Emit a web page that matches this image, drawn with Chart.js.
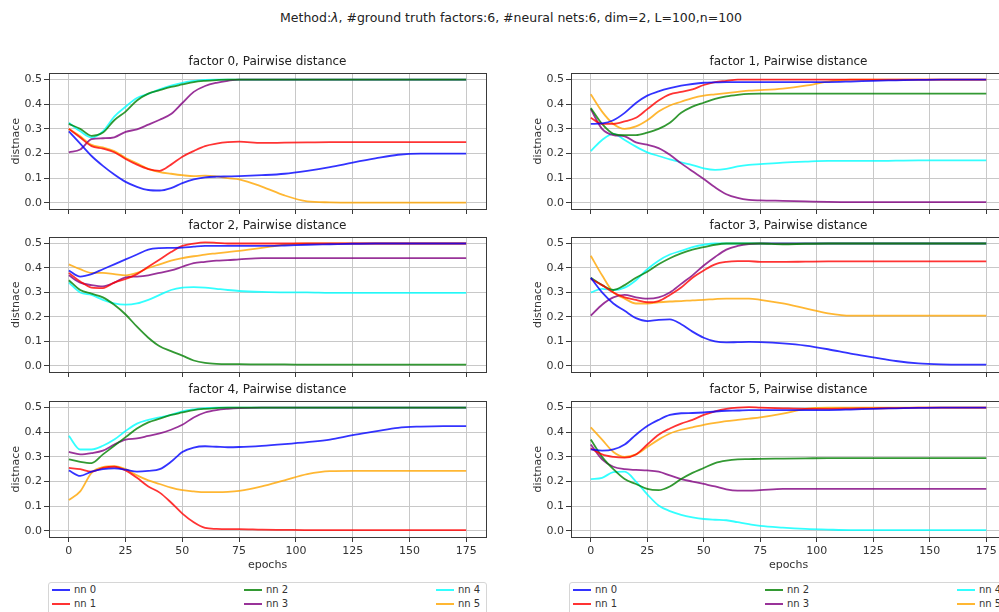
<!DOCTYPE html>
<html>
<head>
<meta charset="utf-8">
<script src="https://cdn.jsdelivr.net/npm/chart.js@4.4.0/dist/chart.umd.min.js"></script>
<style>
  html, body { margin:0; padding:0; background:#fff; }
  body { position:relative; width:999px; height:612px; overflow:hidden; font-family:'DejaVu Sans', sans-serif; }
  .sup { position:absolute; top:11px; left:0; width:1022px; text-align:center; font-size:12.5px; line-height:14px; color:#222; }
  canvas { position:absolute; }
  .legend { position:absolute; top:582px; width:437px; height:34px; border:1px solid #d6d6d6; border-radius:3px; background:#fff; font-size:10px; color:#333; }
  .legend .item { position:absolute; display:flex; align-items:center; height:12px; line-height:12px; }
  .legend .sw { width:18px; height:2px; margin-right:4px; }
</style>
</head>
<body>
<div class="sup">Method:<i>λ</i>, #ground truth factors:6, #neural nets:6, dim=2, L=100,n=100</div>
<canvas id="f0" width="490" height="170" style="left:0;top:45px"></canvas>
<canvas id="f1" width="488" height="170" style="left:522px;top:45px"></canvas>
<canvas id="f2" width="490" height="169" style="left:0;top:209px"></canvas>
<canvas id="f3" width="488" height="169" style="left:522px;top:209px"></canvas>
<canvas id="f4" width="490" height="202" style="left:0;top:373px"></canvas>
<canvas id="f5" width="488" height="202" style="left:522px;top:373px"></canvas>
<div class="legend" id="leg0" style="left:48px"></div>
<div class="legend" id="leg1" style="left:569px"></div>

<script>
// ── DATA ──────────────────────────────────────────────────────────────────────
const EPOCHS = [0,5,10,15,20,25,30,35,40,45,50,55,60,65,70,75,85,95,105,115,125,135,145,155,165,175];
const NETS   = ['nn 0','nn 1','nn 2','nn 3','nn 4','nn 5'];
const COLORS = ['rgba(0,0,255,0.8)','rgba(255,0,0,0.8)','rgba(0,128,0,0.8)',
                'rgba(128,0,128,0.8)','rgba(0,255,255,0.8)','rgba(255,165,0,0.8)'];
const X_TICKS = [0,25,50,75,100,125,150,175];
const Y_TICKS = [0,0.1,0.2,0.3,0.4,0.5];

// one row per net (nn 0 .. nn 5), one value per entry of EPOCHS
const factor0 = [
  [0.29,0.24,0.19,0.15,0.115,0.085,0.065,0.052,0.05,0.06,0.08,0.095,0.103,0.106,0.107,0.108,0.112,0.118,0.13,0.145,0.163,0.18,0.195,0.2,0.2,0.2],
  [0.3,0.265,0.23,0.22,0.205,0.178,0.155,0.137,0.13,0.155,0.187,0.21,0.23,0.24,0.246,0.248,0.243,0.244,0.245,0.246,0.246,0.246,0.246,0.246,0.246,0.246],
  [0.32,0.3,0.272,0.285,0.335,0.37,0.415,0.443,0.457,0.47,0.48,0.49,0.495,0.498,0.5,0.5,0.5,0.5,0.5,0.5,0.5,0.5,0.5,0.5,0.5,0.5],
  [0.205,0.216,0.258,0.262,0.266,0.288,0.298,0.317,0.337,0.36,0.405,0.45,0.474,0.487,0.495,0.5,0.5,0.5,0.5,0.5,0.5,0.5,0.5,0.5,0.5,0.5],
  [0.325,0.29,0.265,0.29,0.35,0.39,0.425,0.442,0.46,0.475,0.487,0.495,0.499,0.5,0.5,0.5,0.5,0.5,0.5,0.5,0.5,0.5,0.5,0.5,0.5,0.5],
  [0.3,0.27,0.235,0.225,0.21,0.182,0.16,0.138,0.125,0.118,0.112,0.108,0.11,0.107,0.1,0.095,0.066,0.03,0.006,0.002,0.001,0.001,0.001,0.001,0.001,0.001]
];
const factor1 = [
  [0.32,0.322,0.335,0.365,0.405,0.435,0.452,0.465,0.475,0.482,0.487,0.489,0.49,0.49,0.49,0.49,0.49,0.49,0.49,0.492,0.495,0.497,0.499,0.5,0.5,0.5],
  [0.345,0.32,0.32,0.33,0.345,0.38,0.415,0.44,0.45,0.46,0.478,0.49,0.495,0.5,0.5,0.5,0.5,0.5,0.5,0.5,0.5,0.5,0.5,0.5,0.5,0.5],
  [0.385,0.32,0.28,0.275,0.275,0.285,0.3,0.325,0.365,0.39,0.406,0.422,0.432,0.438,0.442,0.443,0.443,0.443,0.443,0.443,0.443,0.443,0.443,0.443,0.443,0.443],
  [0.38,0.3,0.275,0.27,0.245,0.236,0.222,0.195,0.16,0.128,0.097,0.063,0.035,0.02,0.012,0.01,0.008,0.006,0.004,0.003,0.003,0.003,0.003,0.003,0.003,0.003],
  [0.21,0.255,0.28,0.255,0.228,0.205,0.19,0.176,0.164,0.153,0.14,0.134,0.138,0.148,0.154,0.157,0.163,0.167,0.17,0.17,0.17,0.171,0.172,0.172,0.172,0.172],
  [0.44,0.37,0.32,0.3,0.31,0.335,0.37,0.395,0.41,0.425,0.435,0.44,0.445,0.45,0.455,0.457,0.463,0.475,0.492,0.5,0.5,0.5,0.5,0.5,0.5,0.5]
];
const factor2 = [
  [0.39,0.365,0.375,0.395,0.415,0.435,0.455,0.475,0.481,0.482,0.483,0.487,0.49,0.49,0.49,0.49,0.49,0.492,0.495,0.497,0.499,0.5,0.5,0.5,0.5,0.5],
  [0.38,0.345,0.32,0.318,0.34,0.355,0.375,0.405,0.435,0.465,0.49,0.5,0.505,0.503,0.5,0.5,0.5,0.5,0.5,0.5,0.5,0.5,0.5,0.5,0.5,0.5],
  [0.35,0.31,0.295,0.28,0.25,0.21,0.16,0.115,0.08,0.06,0.042,0.022,0.012,0.008,0.007,0.007,0.006,0.006,0.005,0.005,0.005,0.005,0.005,0.005,0.005,0.005],
  [0.37,0.34,0.33,0.325,0.34,0.362,0.365,0.37,0.38,0.39,0.405,0.42,0.425,0.43,0.432,0.435,0.44,0.44,0.44,0.44,0.44,0.44,0.44,0.44,0.44,0.44],
  [0.34,0.3,0.29,0.27,0.255,0.25,0.255,0.27,0.29,0.31,0.32,0.322,0.32,0.315,0.31,0.306,0.302,0.3,0.3,0.298,0.298,0.298,0.298,0.298,0.298,0.298],
  [0.415,0.395,0.38,0.38,0.375,0.37,0.38,0.4,0.415,0.43,0.44,0.448,0.455,0.46,0.465,0.47,0.482,0.495,0.5,0.5,0.5,0.5,0.5,0.5,0.5,0.5]
];
const factor3 = [
  [0.36,0.3,0.255,0.225,0.195,0.183,0.188,0.19,0.17,0.14,0.115,0.1,0.096,0.097,0.098,0.097,0.092,0.083,0.068,0.05,0.035,0.02,0.01,0.006,0.005,0.005],
  [0.355,0.33,0.3,0.28,0.27,0.26,0.265,0.29,0.32,0.36,0.39,0.415,0.425,0.428,0.428,0.425,0.425,0.426,0.427,0.427,0.427,0.427,0.427,0.427,0.427,0.427],
  [0.36,0.33,0.31,0.33,0.36,0.385,0.415,0.44,0.46,0.475,0.485,0.495,0.5,0.5,0.5,0.5,0.497,0.499,0.5,0.5,0.5,0.5,0.5,0.5,0.5,0.5],
  [0.205,0.25,0.28,0.29,0.28,0.275,0.28,0.3,0.335,0.37,0.41,0.445,0.475,0.49,0.498,0.5,0.5,0.5,0.5,0.5,0.5,0.5,0.5,0.5,0.5,0.5],
  [0.3,0.315,0.31,0.32,0.35,0.395,0.43,0.455,0.47,0.485,0.495,0.5,0.5,0.5,0.5,0.5,0.5,0.5,0.5,0.5,0.5,0.5,0.5,0.5,0.5,0.5],
  [0.45,0.37,0.3,0.275,0.255,0.255,0.26,0.263,0.265,0.268,0.27,0.273,0.275,0.275,0.275,0.27,0.255,0.235,0.215,0.205,0.205,0.205,0.205,0.205,0.205,0.205]
];
const factor4 = [
  [0.245,0.223,0.24,0.25,0.253,0.248,0.24,0.243,0.25,0.28,0.32,0.338,0.343,0.341,0.339,0.34,0.345,0.352,0.36,0.37,0.388,0.403,0.418,0.423,0.425,0.425],
  [0.255,0.25,0.24,0.255,0.26,0.245,0.215,0.18,0.155,0.115,0.07,0.035,0.012,0.008,0.007,0.007,0.005,0.004,0.003,0.003,0.003,0.003,0.003,0.003,0.003,0.003],
  [0.29,0.28,0.275,0.31,0.345,0.38,0.415,0.44,0.455,0.47,0.48,0.49,0.495,0.498,0.5,0.5,0.5,0.5,0.5,0.5,0.5,0.5,0.5,0.5,0.5,0.5],
  [0.32,0.31,0.315,0.325,0.35,0.37,0.375,0.385,0.395,0.41,0.43,0.46,0.48,0.49,0.495,0.498,0.5,0.5,0.5,0.5,0.5,0.5,0.5,0.5,0.5,0.5],
  [0.385,0.33,0.33,0.345,0.37,0.405,0.435,0.45,0.46,0.47,0.485,0.493,0.498,0.5,0.5,0.5,0.5,0.5,0.5,0.5,0.5,0.5,0.5,0.5,0.5,0.5],
  [0.125,0.16,0.235,0.258,0.262,0.25,0.225,0.205,0.19,0.175,0.165,0.16,0.157,0.157,0.158,0.162,0.18,0.205,0.23,0.242,0.243,0.243,0.243,0.243,0.243,0.243]
];
const factor5 = [
  [0.33,0.325,0.33,0.35,0.39,0.425,0.45,0.47,0.477,0.478,0.48,0.484,0.487,0.488,0.49,0.49,0.49,0.49,0.49,0.492,0.495,0.497,0.499,0.5,0.5,0.5],
  [0.335,0.31,0.3,0.297,0.31,0.35,0.39,0.415,0.435,0.45,0.47,0.485,0.495,0.5,0.502,0.5,0.497,0.495,0.495,0.496,0.497,0.498,0.5,0.5,0.5,0.5],
  [0.37,0.3,0.25,0.21,0.19,0.17,0.165,0.18,0.21,0.235,0.255,0.275,0.285,0.29,0.291,0.292,0.293,0.294,0.295,0.295,0.295,0.295,0.295,0.295,0.295,0.295],
  [0.35,0.29,0.26,0.25,0.247,0.245,0.24,0.225,0.21,0.2,0.19,0.18,0.168,0.163,0.163,0.165,0.17,0.17,0.17,0.17,0.17,0.17,0.17,0.17,0.17,0.17],
  [0.21,0.215,0.238,0.24,0.2,0.148,0.103,0.08,0.065,0.055,0.048,0.045,0.043,0.035,0.027,0.02,0.013,0.008,0.005,0.003,0.003,0.003,0.003,0.003,0.003,0.003],
  [0.42,0.37,0.32,0.3,0.31,0.34,0.37,0.395,0.41,0.42,0.43,0.438,0.445,0.45,0.455,0.46,0.475,0.495,0.5,0.5,0.5,0.5,0.5,0.5,0.5,0.5]
];
const FACTORS = [factor0, factor1, factor2, factor3, factor4, factor5];

// ── PLOT FRAME (all four spines) ─────────────────────────────────────────────
const framePlugin = {
  id: 'frame',
  afterDatasetsDraw(chart) {
    const a = chart.chartArea, ctx = chart.ctx;
    ctx.save();
    ctx.strokeStyle = '#3a3a3a';
    ctx.lineWidth = 1;
    ctx.strokeRect(Math.round(a.left) + 0.5, Math.round(a.top) + 0.5,
                   Math.round(a.right - a.left), Math.round(a.bottom - a.top));
    ctx.restore();
  }
};

const FONT = 'DejaVu Sans';

function makeChart(idx) {
  const bottomRow = idx >= 4;
  const rows = FACTORS[idx];
  const datasets = rows.map((vals, k) => ({
    label: NETS[k],
    data: EPOCHS.map((e, j) => ({ x: e, y: vals[j] })),
    borderColor: COLORS[k],
    borderWidth: 1.8,
    pointRadius: 0,
    fill: false,
    cubicInterpolationMode: 'monotone'
  }));

  return new Chart(document.getElementById('f' + idx), {
    type: 'line',
    data: { datasets },
    plugins: [framePlugin],
    options: {
      responsive: false,
      animation: false,
      devicePixelRatio: 1,
      layout: { padding: { left: 4, right: 4, top: 0, bottom: 0 } },
      plugins: {
        legend: { display: false },
        tooltip: { enabled: false },
        title: {
          display: true,
          text: `factor ${idx}, Pairwise distance`,
          fullSize: false,
          color: '#222',
          font: { family: FONT, size: 12, weight: 'normal' },
          padding: { top: 10, bottom: 4 }
        }
      },
      scales: {
        x: {
          type: 'linear',
          min: -8.75, max: 183.75,
          afterBuildTicks: s => { s.ticks = X_TICKS.map(v => ({ value: v })); },
          afterFit: s => {
            s.height = bottomRow ? 38 : 6;
            s.paddingLeft = s.paddingRight = 0;
          },
          grid: { color: '#c8c8c8', lineWidth: 1, tickLength: 5, tickColor: '#3a3a3a' },
          border: { display: false },
          ticks: {
            display: bottomRow,
            autoSkip: false, maxRotation: 0, padding: 3,
            color: '#333', font: { family: FONT, size: 11 },
            callback: v => String(v)
          },
          title: {
            display: bottomRow, text: 'epochs', color: '#333',
            font: { family: FONT, size: 11 }, padding: { top: 0, bottom: 3 }
          }
        },
        y: {
          min: -0.025, max: 0.525,
          afterBuildTicks: s => { s.ticks = Y_TICKS.map(v => ({ value: v })); },
          afterFit: s => {
            s.width = 45;
            s.paddingTop = s.paddingBottom = 0;
          },
          grid: { color: '#c8c8c8', lineWidth: 1, tickLength: 5, tickColor: '#3a3a3a' },
          border: { display: false },
          ticks: {
            padding: 2, color: '#333', font: { family: FONT, size: 11 },
            callback: v => v.toFixed(1)
          },
          title: {
            display: true, text: 'distnace', color: '#333',
            font: { family: FONT, size: 11 }, padding: { top: 6, bottom: 0 }
          }
        }
      }
    }
  });
}

// ── LEGENDS UNDER EACH COLUMN (3 columns, column-major) ─────────────────────
function buildLegend(el) {
  const colX = [3, 195, 387];
  const rowY = [1, 15];
  el.innerHTML = NETS.map((name, k) => {
    const c = Math.floor(k / 2), r = k % 2;
    return `<div class="item" style="left:${colX[c]}px;top:${rowY[r]}px;">
      <span class="sw" style="background:${COLORS[k]}"></span>${name}</div>`;
  }).join('');
}

for (let i = 0; i < 6; i++) makeChart(i);
buildLegend(document.getElementById('leg0'));
buildLegend(document.getElementById('leg1'));
</script>
</body>
</html>
